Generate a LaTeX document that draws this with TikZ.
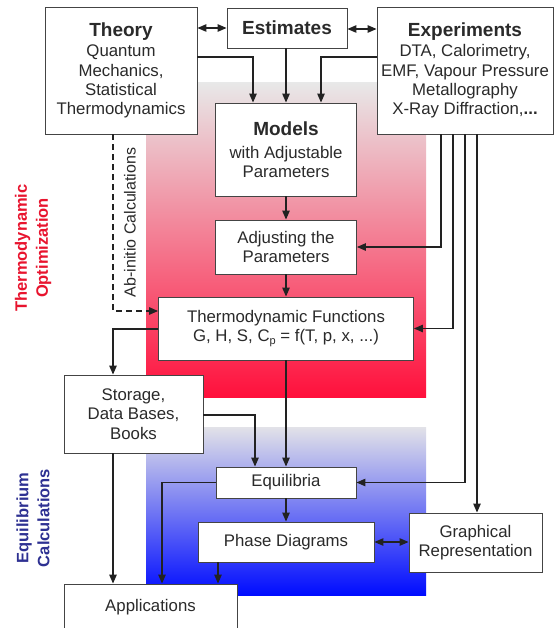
\documentclass[tikz,border=0pt]{standalone}
\usepackage{fontspec}
\setmainfont{Liberation Sans}
\usetikzlibrary{arrows.meta}
\definecolor{txtc}{HTML}{2A2A2A}
\definecolor{linec}{HTML}{222222}
\definecolor{boxc}{HTML}{444444}
\definecolor{optred}{HTML}{E8142E}
\definecolor{eqblue}{HTML}{2E3192}
\definecolor{redtop}{RGB}{232,232,232}
\definecolor{redbot}{RGB}{255,16,60}
\definecolor{bluetop}{RGB}{226,226,232}
\definecolor{bluebot}{RGB}{0,12,255}
\newcommand{\ttl}{\fontsize{19}{22}\selectfont\bfseries}
\tikzset{
  box/.style={draw=boxc, line width=0.9pt, fill=white, align=center, inner sep=0pt,
    text=txtc, font=\fontsize{16.8}{19.3}\selectfont},
  arr/.style={draw=linec, line width=1.2pt, -{Triangle[length=9pt,width=7.5pt]}},
  dbl/.style={draw=linec, line width=1.2pt, {Triangle[length=9pt,width=7.5pt]}-{Triangle[length=9pt,width=7.5pt]}},
  side/.style={rotate=90, align=center, font=\fontsize{16.5}{21}\selectfont\bfseries}
}
\begin{document}
\begin{tikzpicture}[x=1pt,y=-1pt]
\clip (0,0) rectangle (555,628);
\fill[white] (0,0) rectangle (555,628);
% backgrounds
\shade[top color=redtop, bottom color=redbot] (146,83) rectangle (426,397);
\shade[top color=bluetop, bottom color=bluebot] (146,427) rectangle (426,595);
% side labels
\node[side, text=optred] (optlabel) at (33,248) {Thermodynamic\\Optimization};
\node[side, text=eqblue] (eqlabel) at (33,518) {Equilibrium\\Calculations};
% boxes
\node[box, minimum width=152, minimum height=127] (theory) at (121,70.5)
  {{\ttl Theory}\\[1pt] Quantum\\Mechanics,\\Statistical\\Thermodynamics};
\node[box, minimum width=120, minimum height=40] (estimates) at (287,28) {\ttl Estimates};
\node[box, minimum width=176, minimum height=127] (experiments) at (465,70.5)
  {{\ttl Experiments}\\[1pt] DTA, Calorimetry,\\EMF, Vapour Pressure\\Metallography\\X-Ray Diffraction,{\bfseries...}};
\node[box, minimum width=141, minimum height=93] (models) at (286,149.5)
  {{\ttl Models}\\[4pt] with Adjustable\\Parameters};
\node[box, minimum width=141, minimum height=54] (adjusting) at (286,247)
  {Adjusting the\\Parameters};
\node[box, minimum width=255, minimum height=63] (tf) at (286,328.5)
  {Thermodynamic Functions\\G, H, S, C\raisebox{-3pt}{\fontsize{11}{11}\selectfont p} = f(T, p, x, ...)};
\node[box, minimum width=139, minimum height=78] (storage) at (133.5,414)
  {Storage,\\Data Bases,\\Books};
\node[box, minimum width=140, minimum height=31] (equilibria) at (286,482.5) {Equilibria};
\node[box, minimum width=176, minimum height=40] (pd) at (286,542) {Phase Diagrams};
\node[box, minimum width=133, minimum height=59] (graphical) at (475.5,542.5)
  {Graphical\\Representation};
\node[box, minimum width=173, minimum height=46] (applications) at (150.5,607) {Applications};
\node[rotate=90, text=txtc, font=\fontsize{16}{19}\selectfont] (abinitio) at (130,222.5) {Ab-initio Calculations};
% connectors
\draw[dbl] (theory.east |- 0,28) -- (estimates.west |- 0,28);
\draw[dbl] (estimates.east |- 0,29) -- (experiments.west |- 0,29);
\draw[arr] (theory.east |- 0,57) -| (253,0 |- models.north);
\draw[arr] (286,0 |- estimates.south) -- (286,0 |- models.north);
\draw[arr] (experiments.west |- 0,57) -| (321,0 |- models.north);
\draw[arr] (models.south) -- (adjusting.north);
\draw[arr] (adjusting.south) -- (tf.north);
\draw[arr] (441,0 |- experiments.south) |- (adjusting.east);
\draw[arr] (453,0 |- experiments.south) |- (tf.east);
\draw[arr] (465,0 |- experiments.south) |- (equilibria.east);
\draw[arr] (477,0 |- experiments.south) -- (477,0 |- graphical.north);
\draw[arr, dashed, dash pattern=on 6pt off 4pt] (113,0 |- theory.south) |- (tf.west |- 0,311);
\draw[arr] (tf.west |- 0,329) -| (113,0 |- storage.north);
\draw[arr] (storage.east |- 0,415) -| (255,0 |- equilibria.north);
\draw[arr] (tf.south) -- (equilibria.north);
\draw[arr] (equilibria.south) -- (pd.north);
\draw[dbl] (pd.east) -- (pd.east -| graphical.west);
\draw[arr] (equilibria.west) -| (162,0 |- applications.north);
\draw[arr] (218,0 |- pd.south) -- (218,0 |- applications.north);
\draw[arr] (113,0 |- storage.south) -- (113,0 |- applications.north);
\end{tikzpicture}
\end{document}
